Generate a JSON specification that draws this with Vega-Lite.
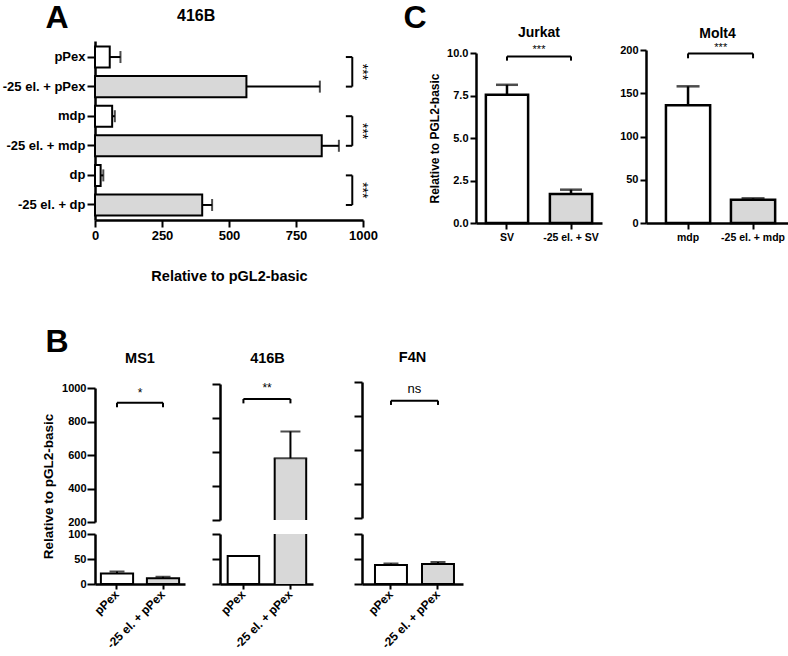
{
  "$schema": "https://vega.github.io/schema/vega-lite/v6.json",
  "padding": {"left": 2, "top": 1, "right": 0, "bottom": 0},
  "config": {
    "font": "Liberation Sans",
    "view": {"stroke": null},
    "axis": {"domainColor": "#000", "domainWidth": 2.5, "tickColor": "#000", "tickWidth": 2, "labelColor": "#000", "titleColor": "#000", "labelFontWeight": "bold", "titleFontWeight": "bold", "grid": false, "labelFlush": false, "labelFont": "Liberation Sans", "titleFont": "Liberation Sans"},
    "title": {"color": "#000", "fontWeight": "bold", "font": "Liberation Sans"}
  },
  "datasets": {
    "A": [
      {"cat": "pPex", "v": 55, "err": 95, "g": "c"},
      {"cat": "-25 el. + pPex", "v": 565, "err": 839, "g": "e"},
      {"cat": "mdp", "v": 64, "err": 74, "g": "c"},
      {"cat": "-25 el. + mdp", "v": 846, "err": 910, "g": "e"},
      {"cat": "dp", "v": 21, "err": 31, "g": "c"},
      {"cat": "-25 el. + dp", "v": 400, "err": 437, "g": "e"}
    ],
    "Apairs": [
      {"a": "pPex", "b": "-25 el. + pPex", "s": "***"},
      {"a": "mdp", "b": "-25 el. + mdp", "s": "***"},
      {"a": "dp", "b": "-25 el. + dp", "s": "***"}
    ],
    "J": [
      {"cat": "SV", "v": 7.55, "err": 8.13, "g": "c"},
      {"cat": "-25 el. + SV", "v": 1.7, "err": 1.96, "g": "e"}
    ],
    "M": [
      {"cat": "mdp", "v": 136, "err": 158, "g": "c"},
      {"cat": "-25 el. + mdp", "v": 27, "err": 28.5, "g": "e"}
    ],
    "MS1": [
      {"cat": "pPex", "v": 21, "err": 25, "g": "c"},
      {"cat": "-25 el. + pPex", "v": 11.5, "err": 14.5, "g": "e"}
    ],
    "B416": [
      {"cat": "pPex", "v": 56, "err": 57, "g": "c"},
      {"cat": "-25 el. + pPex", "v": 563, "err": 721, "g": "e"}
    ],
    "F4N": [
      {"cat": "pPex", "v": 38, "err": 41, "g": "c"},
      {"cat": "-25 el. + pPex", "v": 40, "err": 44, "g": "e"}
    ]
  },
  "spacing": 42,
  "vconcat": [
    {
      "hconcat": [
        {
          "width": 337, "height": 179,
          "title": {"text": "416B", "anchor": "start", "frame": "group", "dx": 82, "offset": -36, "baseline": "alphabetic", "fontSize": 16},
          "layer": [
            {"data": {"name": "A"}, "mark": {"type": "bar", "stroke": "#000", "strokeWidth": 2},
             "encoding": {
               "y": {"field": "cat", "type": "nominal", "scale": {"domain": ["pPex", "-25 el. + pPex", "mdp", "-25 el. + mdp", "dp", "-25 el. + dp"], "paddingInner": 0.29, "paddingOuter": 0.17, "align": 0.55},
                     "axis": {"title": "A", "titleAngle": 0, "titleAlign": "left", "titleBaseline": "alphabetic", "titleX": -50, "titleY": -14, "titleFontSize": 32, "labelFontSize": 13, "tickSize": 8, "labelPadding": 2}},
               "x": {"field": "v", "type": "quantitative", "scale": {"domain": [0, 1000], "range": [0, 268], "nice": false},
                     "axis": {"values": [0, 250, 500, 750, 1000], "format": "d", "title": "Relative to pGL2-basic", "titleFontSize": 14.5, "titlePadding": 27, "labelFontSize": 13, "tickSize": 7, "labelPadding": 2}},
               "fill": {"field": "g", "type": "nominal", "scale": {"domain": ["c", "e"], "range": ["#ffffff", "#d8d8d8"]}, "legend": null}
             }},
            {"data": {"name": "A"}, "mark": {"type": "rule", "color": "#000", "strokeWidth": 2},
             "encoding": {"y": {"field": "cat", "type": "nominal"}, "x": {"field": "v", "type": "quantitative"}, "x2": {"field": "err"}}},
            {"data": {"name": "A"}, "mark": {"type": "tick", "color": "#000", "thickness": 2, "size": 12},
             "encoding": {"y": {"field": "cat", "type": "nominal"}, "x": {"field": "err", "type": "quantitative"}}},
            {"data": {"name": "A"}, "mark": {"type": "rule", "color": "#000", "strokeWidth": 2},
             "encoding": {"y": {"field": "cat", "type": "nominal"}, "x": {"datum": 936}, "x2": {"datum": 960}}},
            {"data": {"name": "Apairs"}, "mark": {"type": "rule", "color": "#000", "strokeWidth": 2},
             "encoding": {"y": {"field": "a", "type": "nominal"}, "y2": {"field": "b"}, "x": {"datum": 960}}},
            {"data": {"name": "Apairs"}, "mark": {"type": "text", "color": "#000", "fill": "#000", "fillOpacity": 1, "angle": 90, "fontSize": 14, "baseline": "middle", "align": "center"},
             "encoding": {"y": {"field": "a", "type": "nominal", "bandPosition": 1.21}, "x": {"datum": 997}, "text": {"field": "s"}}}
          ]
        },
        {
          "width": 126, "height": 182,
          "title": {"text": "Jurkat", "frame": "group", "offset": -50, "baseline": "alphabetic", "fontSize": 14},
          "layer": [
            {"data": {"name": "J"}, "mark": {"type": "bar", "stroke": "#000", "strokeWidth": 2.5},
             "encoding": {
               "x": {"field": "cat", "type": "nominal", "scale": {"domain": ["SV", "-25 el. + SV"], "paddingInner": 0.34, "paddingOuter": 0.154, "align": 0.5},
                     "axis": {"title": "C", "titleAngle": 0, "titleAlign": "left", "titleBaseline": "alphabetic", "titleX": -73, "titleY": -196, "titleFontSize": 32, "labelAngle": 0, "labelFontSize": 10.5, "tickSize": 6, "labelPadding": 3}},
               "y": {"field": "v", "type": "quantitative", "scale": {"domain": [0, 10], "range": [182, 12], "nice": false},
                     "axis": {"values": [0, 2.5, 5, 7.5, 10], "format": ".1f", "title": "Relative to PGL2-basic", "titleFontSize": 12, "titlePadding": 5, "labelFontSize": 11, "tickSize": 6, "labelPadding": 2}},
               "fill": {"field": "g", "type": "nominal", "scale": {"domain": ["c", "e"], "range": ["#ffffff", "#d8d8d8"]}, "legend": null}
             }},
            {"data": {"name": "J"}, "mark": {"type": "rule", "color": "#000", "strokeWidth": 2.5},
             "encoding": {"x": {"field": "cat", "type": "nominal"}, "y": {"field": "v", "type": "quantitative"}, "y2": {"field": "err"}}},
            {"data": {"name": "J"}, "mark": {"type": "tick", "color": "#000", "thickness": 2.5, "size": 22},
             "encoding": {"x": {"field": "cat", "type": "nominal"}, "y": {"field": "err", "type": "quantitative"}}},
            {"data": {"values": [{}]}, "mark": {"type": "rule", "color": "#000", "strokeWidth": 2},
             "encoding": {"x": {"datum": "SV"}, "x2": {"datum": "-25 el. + SV"}, "y": {"datum": 9.8}}},
            {"data": {"name": "J"}, "mark": {"type": "rule", "color": "#000", "strokeWidth": 2},
             "encoding": {"x": {"field": "cat", "type": "nominal"}, "y": {"datum": 9.55}, "y2": {"datum": 9.8}}},
            {"data": {"values": [{}]}, "mark": {"type": "text", "fill": "#000", "fontSize": 11, "baseline": "middle"},
             "encoding": {"y": {"datum": 10.15}, "text": {"value": "***"}}}
          ]
        },
        {
          "width": 143, "height": 182,
          "title": {"text": "Molt4", "frame": "group", "offset": -11, "baseline": "alphabetic", "fontSize": 14},
          "layer": [
            {"data": {"name": "M"}, "mark": {"type": "bar", "stroke": "#000", "strokeWidth": 2.5},
             "encoding": {
               "x": {"field": "cat", "type": "nominal", "scale": {"domain": ["mdp", "-25 el. + mdp"], "paddingInner": 0.32, "paddingOuter": 0.26, "align": 0.59},
                     "axis": {"title": null, "labelAngle": 0, "labelFontSize": 10.5, "tickSize": 6, "labelPadding": 3}},
               "y": {"field": "v", "type": "quantitative", "scale": {"domain": [0, 200], "range": [182, 9], "nice": false},
                     "axis": {"values": [0, 50, 100, 150, 200], "title": null, "labelFontSize": 11, "tickSize": 6, "labelPadding": 2}},
               "fill": {"field": "g", "type": "nominal", "scale": {"domain": ["c", "e"], "range": ["#ffffff", "#d8d8d8"]}, "legend": null}
             }},
            {"data": {"name": "M"}, "mark": {"type": "rule", "color": "#000", "strokeWidth": 2.5},
             "encoding": {"x": {"field": "cat", "type": "nominal"}, "y": {"field": "v", "type": "quantitative"}, "y2": {"field": "err"}}},
            {"data": {"name": "M"}, "mark": {"type": "tick", "color": "#000", "thickness": 2.5, "size": 23},
             "encoding": {"x": {"field": "cat", "type": "nominal"}, "y": {"field": "err", "type": "quantitative"}}},
            {"data": {"values": [{}]}, "mark": {"type": "rule", "color": "#000", "strokeWidth": 2},
             "encoding": {"x": {"datum": "mdp"}, "x2": {"datum": "-25 el. + mdp"}, "y": {"datum": 196}}},
            {"data": {"name": "M"}, "mark": {"type": "rule", "color": "#000", "strokeWidth": 2},
             "encoding": {"x": {"field": "cat", "type": "nominal"}, "y": {"datum": 190.4}, "y2": {"datum": 196}}},
            {"data": {"values": [{}]}, "mark": {"type": "text", "fill": "#000", "fontSize": 11, "baseline": "middle"},
             "encoding": {"x": {"datum": "mdp", "bandPosition": 1.24}, "y": {"datum": 202.5}, "text": {"value": "***"}}}
          ]
        }
      ],
      "spacing": 44,
      "bounds": "flush"
    },
    {
      "title": {"text": "B", "anchor": "start", "fontSize": 32, "offset": -34, "baseline": "alphabetic", "dx": 4},
      "hconcat": [
        {
          "width": 90, "height": 202,
          "title": {"text": "MS1", "frame": "group", "offset": 5, "baseline": "alphabetic", "fontSize": 14.5},
          "layer": [
            {"layer": [
              {"data": {"name": "MS1"}, "transform": [{"filter": "datum.v > 200"}], "mark": {"type": "bar", "stroke": "#000", "strokeWidth": 2},
               "encoding": {
                 "x": {"field": "cat", "type": "nominal"},
                 "y": {"field": "v", "type": "quantitative", "scale": {"domain": [200, 1000], "range": [140, 6], "nice": false, "zero": false},
                       "axis": {"orient": "left", "values": [200, 400, 600, 800, 1000], "format": "d", "title": "Relative to pGL2-basic", "titleY": 104, "titleFontSize": 13.5, "titlePadding": 6, "labelFontSize": 11, "tickSize": 8, "labelPadding": 1}},
                 "y2": {"datum": 200},
                 "fill": {"field": "g", "type": "nominal", "scale": {"domain": ["c", "e"], "range": ["#ffffff", "#d8d8d8"]}, "legend": null}
               }},
              {"data": {"values": [{}]}, "mark": {"type": "rule", "color": "#000", "strokeWidth": 2},
               "encoding": {"x": {"datum": "pPex"}, "x2": {"datum": "-25 el. + pPex"}, "y": {"datum": 912}}},
              {"data": {"name": "MS1"}, "mark": {"type": "rule", "color": "#000", "strokeWidth": 2},
               "encoding": {"x": {"field": "cat", "type": "nominal"}, "y": {"datum": 885}, "y2": {"datum": 912}}},
              {"data": {"values": [{}]}, "mark": {"type": "text", "fill": "#000", "fontSize": 12, "baseline": "middle"},
               "encoding": {"x": {"datum": "pPex", "bandPosition": 1.22}, "y": {"datum": 972}, "text": {"value": "*"}}}
            ]},
            {"layer": [
              {"data": {"name": "MS1"}, "mark": {"type": "bar", "stroke": "#000", "strokeWidth": 2},
               "encoding": {
                 "x": {"field": "cat", "type": "nominal", "scale": {"domain": ["pPex", "-25 el. + pPex"], "paddingInner": 0.3, "paddingOuter": 0.128, "align": 0.5},
                       "axis": {"title": null, "labelAngle": -45, "labelFontSize": 12, "tickSize": 5, "labelPadding": 3}},
                 "y": {"field": "v", "type": "quantitative", "scale": {"domain": [0, 100], "range": [202, 152], "nice": false, "clamp": true},
                       "axis": {"orient": "left", "values": [0, 50, 100], "title": null, "labelFontSize": 11, "tickSize": 8, "labelPadding": 1}},
                 "fill": {"field": "g", "type": "nominal", "scale": {"domain": ["c", "e"], "range": ["#ffffff", "#d8d8d8"]}, "legend": null}
               }},
              {"data": {"name": "MS1"}, "transform": [{"filter": "datum.err <= 100"}], "mark": {"type": "rule", "color": "#000", "strokeWidth": 2},
               "encoding": {"x": {"field": "cat", "type": "nominal"}, "y": {"field": "v", "type": "quantitative"}, "y2": {"field": "err"}}},
              {"data": {"name": "MS1"}, "transform": [{"filter": "datum.err <= 100"}], "mark": {"type": "tick", "color": "#000", "thickness": 2, "size": 15},
               "encoding": {"x": {"field": "cat", "type": "nominal"}, "y": {"field": "err", "type": "quantitative"}}}
            ]}
          ],
          "resolve": {"scale": {"y": "independent"}, "axis": {"y": "independent"}}
        },
        {
          "width": 107, "height": 202,
          "title": {"text": "416B", "frame": "group", "offset": 5, "baseline": "alphabetic", "fontSize": 14.5, "dx": -6},
          "layer": [
            {"layer": [
              {"data": {"name": "B416"}, "transform": [{"filter": "datum.v > 200"}], "mark": {"type": "bar"},
               "encoding": {
                 "x": {"field": "cat", "type": "nominal"},
                 "y": {"field": "v", "type": "quantitative", "scale": {"domain": [200, 1000], "range": [138, 2], "nice": false, "zero": false},
                       "axis": {"orient": "left", "values": [200, 400, 600, 800, 1000], "title": null, "labels": false, "tickSize": 8}},
                 "y2": {"datum": 200},
                 "fill": {"field": "g", "type": "nominal", "scale": {"domain": ["c", "e"], "range": ["#ffffff", "#d8d8d8"]}, "legend": null}
               }},
              {"data": {"name": "B416"}, "transform": [{"filter": "datum.v > 200"}], "mark": {"type": "rule", "color": "#000", "strokeWidth": 2},
               "encoding": {"x": {"field": "cat", "type": "nominal", "bandPosition": 0}, "y": {"field": "v", "type": "quantitative"}, "y2": {"datum": 200}}},
              {"data": {"name": "B416"}, "transform": [{"filter": "datum.v > 200"}], "mark": {"type": "rule", "color": "#000", "strokeWidth": 2},
               "encoding": {"x": {"field": "cat", "type": "nominal", "bandPosition": 1}, "y": {"field": "v", "type": "quantitative"}, "y2": {"datum": 200}}},
              {"data": {"name": "B416"}, "transform": [{"filter": "datum.v > 200"}], "mark": {"type": "tick", "color": "#000", "thickness": 2, "size": 33.5},
               "encoding": {"x": {"field": "cat", "type": "nominal"}, "y": {"field": "v", "type": "quantitative"}}},
              {"data": {"name": "B416"}, "transform": [{"filter": "datum.err > 200"}], "mark": {"type": "rule", "color": "#000", "strokeWidth": 2},
               "encoding": {"x": {"field": "cat", "type": "nominal"}, "y": {"field": "v", "type": "quantitative"}, "y2": {"field": "err"}}},
              {"data": {"name": "B416"}, "transform": [{"filter": "datum.err > 200"}], "mark": {"type": "tick", "color": "#000", "thickness": 2, "size": 20},
               "encoding": {"x": {"field": "cat", "type": "nominal"}, "y": {"field": "err", "type": "quantitative"}}},
              {"data": {"values": [{}]}, "mark": {"type": "rule", "color": "#000", "strokeWidth": 2},
               "encoding": {"x": {"datum": "pPex"}, "x2": {"datum": "-25 el. + pPex"}, "y": {"datum": 912}}},
              {"data": {"name": "B416"}, "mark": {"type": "rule", "color": "#000", "strokeWidth": 2},
               "encoding": {"x": {"field": "cat", "type": "nominal"}, "y": {"datum": 886}, "y2": {"datum": 912}}},
              {"data": {"values": [{}]}, "mark": {"type": "text", "fill": "#000", "fontSize": 12, "baseline": "middle"},
               "encoding": {"x": {"datum": "pPex", "bandPosition": 1.25}, "y": {"datum": 976}, "text": {"value": "**"}}}
            ]},
            {"layer": [
              {"data": {"name": "B416"}, "transform": [{"filter": "datum.v <= 100"}], "mark": {"type": "bar", "stroke": "#000", "strokeWidth": 2},
               "encoding": {
                 "x": {"field": "cat", "type": "nominal", "scale": {"domain": ["pPex", "-25 el. + pPex"], "range": [0, 93], "paddingInner": 0.33, "paddingOuter": 0.154, "align": 0.53},
                       "axis": {"title": null, "labelAngle": -45, "labelFontSize": 12, "tickSize": 5, "labelPadding": 3}},
                 "y": {"field": "v", "type": "quantitative", "scale": {"domain": [0, 100], "range": [202, 152], "nice": false, "clamp": true},
                       "axis": {"orient": "left", "values": [0, 50, 100], "title": null, "labels": false, "tickSize": 8}},
                 "fill": {"field": "g", "type": "nominal", "scale": {"domain": ["c", "e"], "range": ["#ffffff", "#d8d8d8"]}, "legend": null}
               }},
              {"data": {"name": "B416"}, "transform": [{"filter": "datum.v > 100"}], "mark": {"type": "bar"},
               "encoding": {
                 "x": {"field": "cat", "type": "nominal"},
                 "y": {"field": "v", "type": "quantitative"},
                 "fill": {"field": "g", "type": "nominal", "scale": {"domain": ["c", "e"], "range": ["#ffffff", "#d8d8d8"]}, "legend": null}
               }},
              {"data": {"name": "B416"}, "transform": [{"filter": "datum.v > 100"}], "mark": {"type": "rule", "color": "#000", "strokeWidth": 2},
               "encoding": {"x": {"field": "cat", "type": "nominal", "bandPosition": 0}, "y": {"field": "v", "type": "quantitative"}, "y2": {"datum": 0}}},
              {"data": {"name": "B416"}, "transform": [{"filter": "datum.v > 100"}], "mark": {"type": "rule", "color": "#000", "strokeWidth": 2},
               "encoding": {"x": {"field": "cat", "type": "nominal", "bandPosition": 1}, "y": {"field": "v", "type": "quantitative"}, "y2": {"datum": 0}}},
              {"data": {"name": "B416"}, "transform": [{"filter": "datum.err <= 100"}], "mark": {"type": "rule", "color": "#000", "strokeWidth": 2},
               "encoding": {"x": {"field": "cat", "type": "nominal"}, "y": {"field": "v", "type": "quantitative"}, "y2": {"field": "err"}}}
            ]}
          ],
          "resolve": {"scale": {"y": "independent"}, "axis": {"y": "independent"}}
        },
        {
          "width": 101, "height": 202,
          "title": {"text": "F4N", "frame": "group", "offset": 5, "baseline": "alphabetic", "fontSize": 14.5},
          "layer": [
            {"layer": [
              {"data": {"name": "F4N"}, "transform": [{"filter": "datum.v > 200"}], "mark": {"type": "bar", "stroke": "#000", "strokeWidth": 2},
               "encoding": {
                 "x": {"field": "cat", "type": "nominal"},
                 "y": {"field": "v", "type": "quantitative", "scale": {"domain": [200, 1000], "range": [136, 0], "nice": false, "zero": false},
                       "axis": {"orient": "left", "values": [200, 400, 600, 800, 1000], "title": null, "labels": false, "tickSize": 8}},
                 "y2": {"datum": 200},
                 "fill": {"field": "g", "type": "nominal", "scale": {"domain": ["c", "e"], "range": ["#ffffff", "#d8d8d8"]}, "legend": null}
               }},
              {"data": {"values": [{}]}, "mark": {"type": "rule", "color": "#000", "strokeWidth": 2},
               "encoding": {"x": {"datum": "pPex"}, "x2": {"datum": "-25 el. + pPex"}, "y": {"datum": 890}}},
              {"data": {"name": "F4N"}, "mark": {"type": "rule", "color": "#000", "strokeWidth": 2},
               "encoding": {"x": {"field": "cat", "type": "nominal"}, "y": {"datum": 865}, "y2": {"datum": 890}}},
              {"data": {"values": [{}]}, "mark": {"type": "text", "fill": "#000", "fontSize": 13, "baseline": "middle"},
               "encoding": {"x": {"datum": "pPex", "bandPosition": 1.23}, "y": {"datum": 959}, "text": {"value": "ns"}}}
            ]},
            {"layer": [
              {"data": {"name": "F4N"}, "mark": {"type": "bar", "stroke": "#000", "strokeWidth": 2},
               "encoding": {
                 "x": {"field": "cat", "type": "nominal", "scale": {"domain": ["pPex", "-25 el. + pPex"], "paddingInner": 0.32, "paddingOuter": 0.234, "align": 0.59},
                       "axis": {"title": null, "labelAngle": -45, "labelFontSize": 12, "tickSize": 5, "labelPadding": 3}},
                 "y": {"field": "v", "type": "quantitative", "scale": {"domain": [0, 100], "range": [202, 152], "nice": false, "clamp": true},
                       "axis": {"orient": "left", "values": [0, 50, 100], "title": null, "labels": false, "tickSize": 8}},
                 "fill": {"field": "g", "type": "nominal", "scale": {"domain": ["c", "e"], "range": ["#ffffff", "#d8d8d8"]}, "legend": null}
               }},
              {"data": {"name": "F4N"}, "transform": [{"filter": "datum.err <= 100"}], "mark": {"type": "rule", "color": "#000", "strokeWidth": 2},
               "encoding": {"x": {"field": "cat", "type": "nominal"}, "y": {"field": "v", "type": "quantitative"}, "y2": {"field": "err"}}},
              {"data": {"name": "F4N"}, "transform": [{"filter": "datum.err <= 100"}], "mark": {"type": "tick", "color": "#000", "thickness": 2, "size": 15},
               "encoding": {"x": {"field": "cat", "type": "nominal"}, "y": {"field": "err", "type": "quantitative"}}}
            ]}
          ],
          "resolve": {"scale": {"y": "independent"}, "axis": {"y": "independent"}}
        }
      ],
      "spacing": 35,
      "bounds": "flush"
    }
  ]
}
